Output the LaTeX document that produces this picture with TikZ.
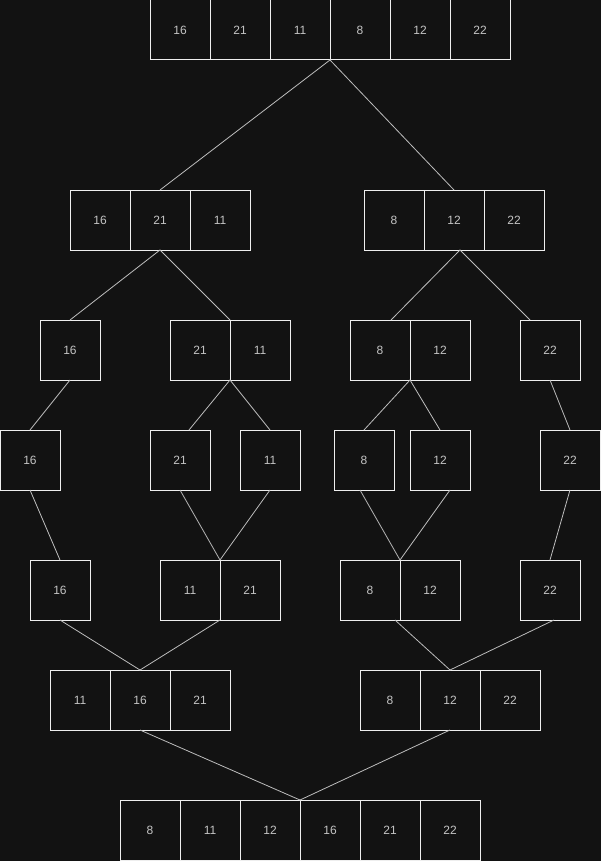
\documentclass[tikz,border=0pt]{standalone}
\usepackage{fontspec}
\setmainfont{Liberation Sans}

\definecolor{bgdark}{HTML}{121212}
\definecolor{boxline}{HTML}{EEEEEE}
\definecolor{linkline}{HTML}{BDBDBD}
\definecolor{numtext}{HTML}{C4C4C4}

\tikzset{
    cell/.style={draw=boxline, line width=1pt, minimum size=60pt, inner sep=0pt, outer sep=0pt,
        text=numtext, font=\fontsize{12}{14}\selectfont},
    link/.style={draw=linkline, line width=0.8pt},
}

% one array: name, left edge, centre height, values
\newcommand{\arr}[4]{%
    \foreach \v [count=\i] in {#4}
        \node[cell] (#1\i) at ({#2+60*\i-30},#3) {\v};
}

\begin{document}
\begin{tikzpicture}[x=1pt, y=-1pt]
    \fill[bgdark] (0,0) rectangle (601,861);
    \useasboundingbox (0,0) rectangle (601,861);

    % split
    \arr{r0c}{150}{30}{16,21,11,8,12,22}
    \arr{r1a}{70}{220}{16,21,11}
    \arr{r1b}{364}{220}{8,12,22}
    \arr{r2a}{40}{350}{16}
    \arr{r2b}{170}{350}{21,11}
    \arr{r2c}{350}{350}{8,12}
    \arr{r2d}{520}{350}{22}
    \arr{r3a}{0}{460}{16}
    \arr{r3b}{150}{460}{21}
    \arr{r3c}{240}{460}{11}
    \arr{r3d}{334}{460}{8}
    \arr{r3e}{410}{460}{12}
    \arr{r3f}{540}{460}{22}

    % merge
    \arr{r4a}{30}{590}{16}
    \arr{r4b}{160}{590}{11,21}
    \arr{r4c}{340}{590}{8,12}
    \arr{r4d}{520}{590}{22}
    \arr{r5a}{50}{700}{11,16,21}
    \arr{r5b}{360}{700}{8,12,22}
    \arr{r6c}{120}{830}{8,11,12,16,21,22}

    \draw[link] (r1a2.north) -- (r0c3.south east) -- (r1b2.north);
    \draw[link] (r2a1.north) -- (r1a2.south) -- (r2b1.north east);
    \draw[link] ([xshift=11pt]r2c1.north) -- ([xshift=6pt]r1b2.south) -- ([xshift=-20pt]r2d1.north);
    \draw[link] (r2a1.south) -- (r3a1.north);
    \draw[link] ([xshift=9pt]r3b1.north) -- (r2b1.south east) -- (r3c1.north);
    \draw[link] (r3d1.north) -- (r2c1.south east) -- (r3e1.north);
    \draw[link] (r2d1.south) -- (r3f1.north);

    \draw[link] (r3a1.south) -- (r4a1.north);
    \draw[link] (r3b1.south) -- (r4b1.north east) -- (r3c1.south);
    \draw[link] ([xshift=-4pt]r3d1.south) -- (r4c1.north east) -- ([xshift=10pt]r3e1.south);
    \draw[link] (r3f1.south) -- (r4d1.north);
    \draw[link] (r4a1.south) -- (r5a2.north) -- (r4b1.south east);
    \draw[link] ([xshift=-5pt]r4c1.south east) -- (r5b2.north) -- ([xshift=4pt]r4d1.south);
    \draw[link] (r5a2.south) -- (r6c3.north east) -- (r5b2.south);
\end{tikzpicture}
\end{document}
